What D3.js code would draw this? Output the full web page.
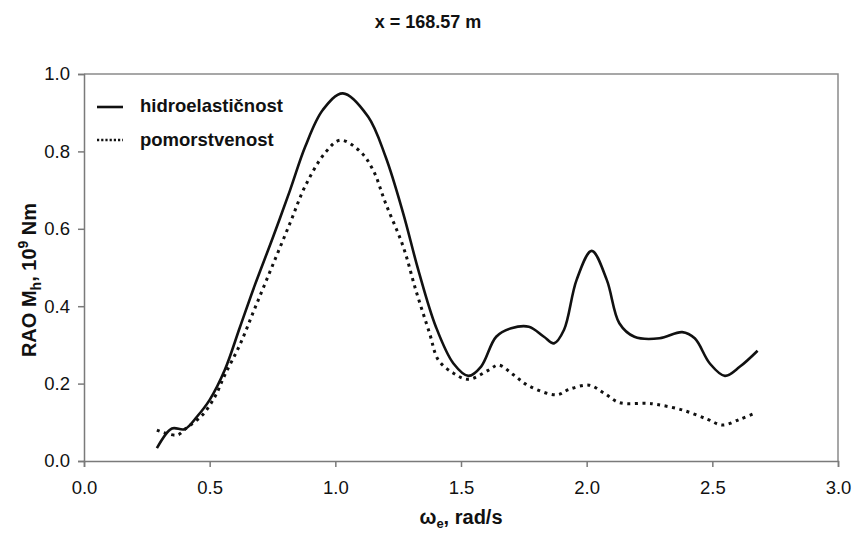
<!DOCTYPE html>
<html><head><meta charset="utf-8">
<script src="https://cdn.jsdelivr.net/npm/d3@7"></script>
<style>body{margin:0;background:#fff}svg{display:block}text{font-family:"Liberation Sans",Arial,sans-serif;fill:#111}</style>
</head><body><svg id="c" width="856" height="533"></svg>
<script>
const title = "x = 168.57 m";
const seriesNames = ["hidroelastičnost", "pomorstvenost"];
const xTicks = [0, 0.5, 1.0, 1.5, 2.0, 2.5, 3.0];
const yTicks = [0, 0.2, 0.4, 0.6, 0.8, 1.0];
const hidroX = [0.29,0.35,0.40,0.45,0.50,0.56,0.62,0.68,0.75,0.82,0.88,0.95,1.03,1.13,1.20,1.27,1.33,1.40,1.47,1.53,1.58,1.64,1.70,1.77,1.83,1.87,1.91,1.96,2.02,2.08,2.13,2.19,2.29,2.38,2.43,2.49,2.55,2.61,2.68];
const hidroY = [0.033,0.084,0.082,0.115,0.158,0.235,0.345,0.455,0.575,0.70,0.812,0.907,0.950,0.89,0.786,0.64,0.494,0.347,0.252,0.220,0.244,0.321,0.343,0.347,0.321,0.304,0.339,0.468,0.543,0.468,0.356,0.321,0.317,0.333,0.317,0.252,0.220,0.244,0.285];
const pomorX = [0.29,0.37,0.405,0.47,0.52,0.56,0.62,0.68,0.75,0.82,0.88,0.96,1.02,1.10,1.15,1.20,1.27,1.32,1.375,1.41,1.47,1.53,1.61,1.65,1.71,1.77,1.88,1.93,2.01,2.07,2.13,2.24,2.28,2.38,2.48,2.54,2.61,2.66];
const pomorY = [0.080,0.067,0.084,0.118,0.165,0.222,0.30,0.395,0.505,0.615,0.71,0.797,0.829,0.799,0.752,0.666,0.554,0.442,0.33,0.261,0.227,0.211,0.235,0.248,0.222,0.194,0.171,0.185,0.196,0.175,0.151,0.149,0.146,0.132,0.108,0.093,0.108,0.121];

const svg = d3.select("#c");
const L = 84, R = 838, T = 74, B = 461;
const x = d3.scaleLinear().domain([0, 3]).range([L, R]);
const y = d3.scaleLinear().domain([0, 1]).range([B, T]);

svg.append("path").attr("d", `M${L},${T}H${R}V${B}`).attr("fill","none").attr("stroke","#8a8a8a").attr("stroke-width",1.5);

const xa = svg.append("g").attr("transform",`translate(0,${B})`)
  .call(d3.axisBottom(x).tickValues(xTicks).tickFormat(d3.format(".1f")).tickSizeOuter(0).tickSize(6).tickPadding(14));
const ya = svg.append("g").attr("transform",`translate(${L},0)`)
  .call(d3.axisLeft(y).tickValues(yTicks).tickFormat(d3.format(".1f")).tickSizeOuter(0).tickSize(6).tickPadding(8));
[xa, ya].forEach(g => {
  g.select(".domain").attr("stroke","#7a7a7a").attr("stroke-width",1.5);
  g.selectAll(".tick line").attr("stroke","#7a7a7a").attr("stroke-width",1.5);
  g.selectAll(".tick text").style("font-size","18.5px").attr("fill","#111");
});

const line = d3.line().x(d => x(d[0])).y(d => y(d[1])).curve(d3.curveCatmullRom.alpha(0.5));
svg.append("path").datum(d3.zip(hidroX, hidroY)).attr("d", line)
  .attr("fill","none").attr("stroke","#111").attr("stroke-width",2.6);
svg.append("path").datum(d3.zip(pomorX, pomorY)).attr("d", line)
  .attr("fill","none").attr("stroke","#111").attr("stroke-width",3).attr("stroke-dasharray","3,4.5");

const lg = svg.append("g");
lg.append("line").attr("x1",97).attr("x2",123).attr("y1",107).attr("y2",107).attr("stroke","#111").attr("stroke-width",2.6);
lg.append("line").attr("x1",97).attr("x2",123).attr("y1",140).attr("y2",140).attr("stroke","#111").attr("stroke-width",2.5).attr("stroke-dasharray","2.2,2");
lg.append("text").attr("x",140).attr("y",112).style("font-size","18.5px").style("font-weight","bold").text(seriesNames[0]);
lg.append("text").attr("x",140).attr("y",146).style("font-size","18.5px").style("font-weight","bold").text(seriesNames[1]);

svg.append("text").attr("x",428).attr("y",28).attr("text-anchor","middle").style("font-size","18px").style("font-weight","bold").text(title);

const xl = svg.append("text").attr("x",461).attr("y",524).attr("text-anchor","middle").style("font-size","20px").style("font-weight","bold");
xl.append("tspan").text("ω");
xl.append("tspan").attr("dy",4).style("font-size","13px").text("e");
xl.append("tspan").attr("dy",-4).text(", rad/s");

const yl = svg.append("text").attr("transform","translate(36,280) rotate(-90)").attr("text-anchor","middle").style("font-size","20px").style("font-weight","bold");
yl.append("tspan").text("RAO M");
yl.append("tspan").attr("dy",5).style("font-size","14px").text("h");
yl.append("tspan").attr("dy",-5).text(", 10");
yl.append("tspan").attr("dy",-8).style("font-size","14px").text("9");
yl.append("tspan").attr("dy",8).text(" Nm");
</script></body></html>
